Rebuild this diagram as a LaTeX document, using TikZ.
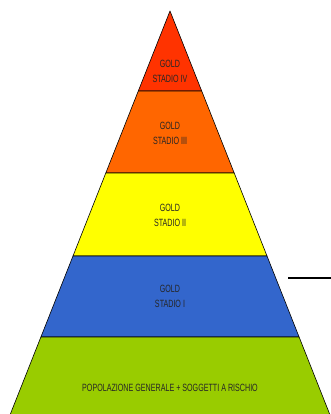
\documentclass[tikz,border=0pt]{standalone}
\usepackage{fontspec}
\newfontfamily\narrowfont[FakeStretch=0.68]{Liberation Sans}
\definecolor{stadioquattro}{HTML}{FF3300}
\definecolor{stadiotre}{HTML}{FF6600}
\definecolor{stadiodue}{HTML}{FFFF00}
\definecolor{stadiouno}{HTML}{3366CC}
\definecolor{popolazione}{HTML}{99CC00}
\begin{document}
\begin{tikzpicture}[x=1pt,y=-1pt, font=\narrowfont\fontsize{10.5}{15}\selectfont, line join=round, line cap=round]
	\tikzset{band/.style={draw=black, line width=0.6pt}, lbl/.style={align=center, inner sep=0pt, text=black!85}}
	\useasboundingbox (0,0) rectangle (331,414);
	% apex (170,11), slope 0.396 per unit of height
	\fill[band, fill=stadioquattro] (170,11)--(201.7,91)--(138.3,91)--cycle;
	\fill[band, fill=stadiotre] (138.3,91)--(201.7,91)--(234.2,173)--(105.8,173)--cycle;
	\fill[band, fill=stadiodue] (105.8,173)--(234.2,173)--(267,256)--(73,256)--cycle;
	\fill[band, fill=stadiouno] (73,256)--(267,256)--(299.1,337)--(40.9,337)--cycle;
	\fill[band, fill=popolazione] (40.9,337)--(299.1,337)--(331.2,418)--(8.8,418)--cycle;
	\node[lbl] (quattro) at (170,71.5) {GOLD\\STADIO IV};
	\node[lbl] (tre) at (170,133.5) {GOLD\\STADIO III};
	\node[lbl] (due) at (170,215) {GOLD\\STADIO II};
	\node[lbl] (uno) at (170,296.5) {GOLD\\STADIO I};
	\node[lbl] (base) at (170,388) {POPOLAZIONE GENERALE + SOGGETTI A RISCHIO};
	\coordinate (segA) at (288,278);
	\coordinate (segB) at (331,278);
	\draw[line width=1.2pt, line cap=butt] (segA)--(segB);
\end{tikzpicture}
\end{document}
